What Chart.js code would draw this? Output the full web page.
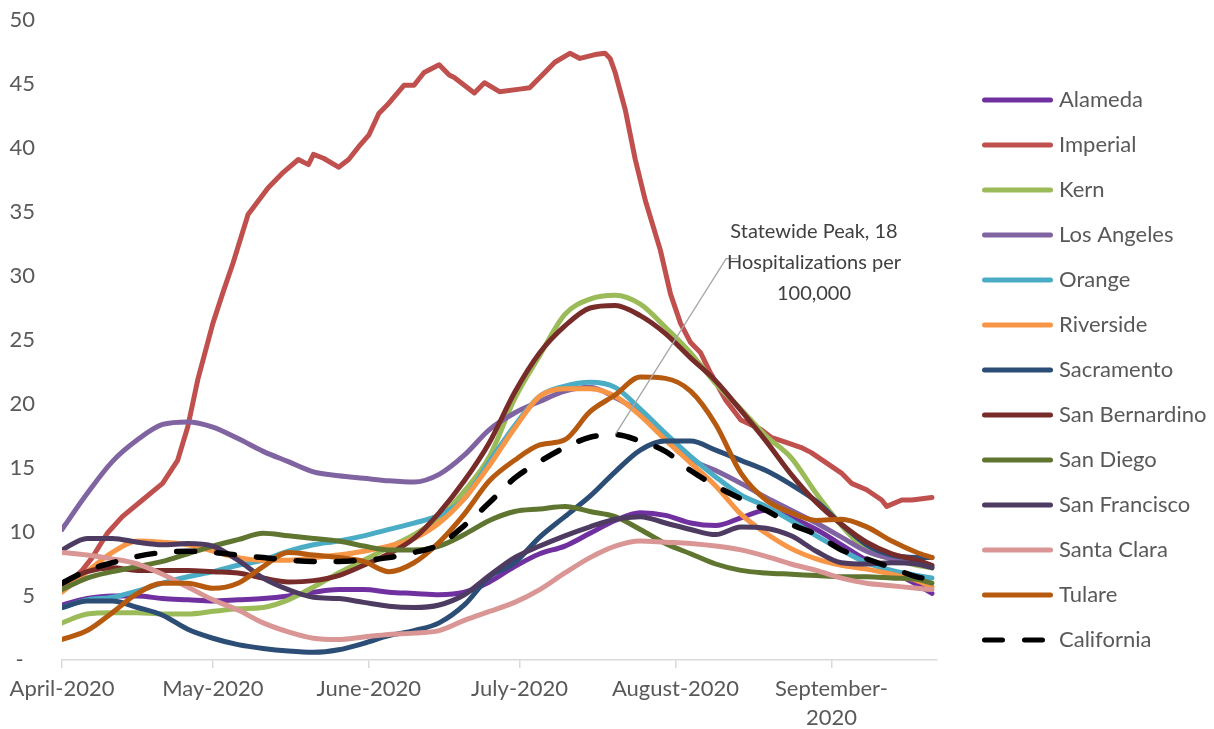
<!DOCTYPE html>
<html>
<head>
<meta charset="utf-8">
<script src="https://cdn.jsdelivr.net/npm/chart.js@4.4.1/dist/chart.umd.min.js"></script>
<style>
  html, body { margin: 0; padding: 0; background: #fff; }
  #wrap { width: 1214px; height: 729px; position: relative; }
</style>
</head>
<body>
<div id="wrap"><canvas id="hospChart"></canvas></div>
<script>
// ---------- Data (days since April 1, 2020) ----------
const days = [0, 5, 10, 15, 20, 25, 30, 35, 40, 45, 50, 55, 60, 65, 70, 75, 80, 85,
  90, 95, 100, 105, 110, 115, 120, 125, 130, 135, 140, 145, 150, 155, 160, 165, 170, 173];

const alameda = [4.3, 4.8, 5.0, 5.0, 4.8, 4.7, 4.6, 4.7, 4.8, 5.0, 5.3, 5.5, 5.5, 5.3, 5.2, 5.1, 5.3, 6.1,
  7.3, 8.3, 8.9, 9.9, 10.9, 11.5, 11.3, 10.7, 10.5, 11.1, 11.7, 11.1, 10.2, 9.0, 7.8, 6.9, 5.9, 5.2];
const kern = [2.9, 3.6, 3.7, 3.7, 3.6, 3.6, 3.8, 4.0, 4.1, 4.7, 5.7, 6.8, 7.8, 8.8, 9.8, 11.1, 13.2, 15.9,
  20.4, 23.8, 27.0, 28.2, 28.5, 27.8, 26.0, 24.0, 21.6, 19.6, 17.5, 15.8, 13.0, 10.5, 8.6, 7.9, 7.4, 7.2];
const losAngeles = [10.2, 13.0, 15.5, 17.2, 18.4, 18.6, 18.2, 17.3, 16.3, 15.5, 14.7, 14.4, 14.2, 14.0, 13.9, 14.5, 16.0, 18.0,
  19.3, 20.2, 21.0, 21.3, 20.5, 19.3, 17.5, 15.7, 14.8, 13.8, 12.7, 11.7, 10.7, 9.6, 8.5, 7.9, 7.5, 7.3];
const orange = [4.1, 4.7, 4.9, 5.4, 6.0, 6.5, 6.9, 7.4, 7.8, 8.5, 9.0, 9.3, 9.7, 10.2, 10.7, 11.3, 12.6, 15.5,
  18.3, 20.6, 21.4, 21.7, 21.3, 19.6, 17.7, 15.9, 14.3, 12.9, 12.0, 10.9, 9.7, 8.6, 7.6, 7.0, 6.6, 6.4];
const riverside = [5.3, 6.9, 8.4, 9.3, 9.2, 9.0, 8.5, 8.0, 7.8, 7.8, 8.0, 8.2, 8.5, 8.9, 9.5, 10.7, 12.6, 15.2,
  18.1, 20.6, 21.2, 21.2, 20.6, 19.1, 17.2, 15.4, 13.6, 11.4, 9.9, 8.7, 7.9, 7.4, 7.1, 6.7, 6.2, 5.7];
const sacramento = [4.1, 4.6, 4.6, 4.1, 3.5, 2.4, 1.7, 1.2, 0.9, 0.7, 0.6, 0.8, 1.3, 1.9, 2.3, 2.9, 4.3, 6.5,
  7.6, 9.6, 11.2, 12.8, 14.7, 16.4, 17.1, 17.1, 16.4, 15.6, 14.8, 13.7, 12.4, 10.6, 9.0, 8.2, 8.0, 8.0];
const sanBernardino = [6.0, 6.9, 7.2, 7.0, 7.0, 7.0, 6.9, 6.8, 6.4, 6.1, 6.2, 6.6, 7.4, 8.3, 9.5, 11.5, 14.0, 17.0,
  20.9, 24.0, 26.1, 27.5, 27.7, 26.9, 25.5, 23.6, 21.8, 19.5, 17.1, 14.5, 12.3, 10.6, 9.2, 8.3, 7.8, 7.4];
const sanDiego = [5.5, 6.4, 6.9, 7.3, 7.7, 8.3, 8.9, 9.4, 9.9, 9.7, 9.5, 9.3, 8.9, 8.6, 8.6, 8.9, 9.8, 10.9,
  11.6, 11.8, 12.0, 11.6, 11.2, 10.2, 9.1, 8.3, 7.5, 7.0, 6.8, 6.7, 6.6, 6.5, 6.5, 6.4, 6.3, 6.0];
const sanFrancisco = [8.6, 9.5, 9.5, 9.2, 9.0, 9.1, 8.9, 7.8, 6.4, 5.5, 4.9, 4.8, 4.5, 4.2, 4.1, 4.3, 5.1, 6.6,
  8.0, 8.9, 9.7, 10.4, 11.0, 11.2, 10.7, 10.2, 9.8, 10.4, 10.3, 9.7, 8.5, 7.6, 7.5, 7.6, 7.5, 7.2];
const santaClara = [8.4, 8.2, 7.9, 7.5, 6.7, 5.7, 4.7, 3.9, 2.9, 2.2, 1.7, 1.6, 1.8, 2.0, 2.1, 2.3, 3.1, 3.8,
  4.5, 5.5, 6.8, 8.0, 8.9, 9.3, 9.2, 9.1, 8.9, 8.6, 8.1, 7.5, 7.0, 6.4, 6.0, 5.8, 5.6, 5.5];
const tulare = [1.6, 2.3, 3.7, 5.2, 6.0, 6.0, 5.6, 6.0, 7.3, 8.4, 8.2, 8.0, 7.7, 6.9, 7.6, 9.2, 11.4, 14.0,
  15.6, 16.8, 17.2, 19.4, 20.7, 22.1, 22.0, 21.0, 18.4, 14.6, 12.5, 11.5, 10.9, 11.0, 10.4, 9.3, 8.4, 8.0];
const california = [6.0, 7.0, 7.6, 8.1, 8.4, 8.5, 8.4, 8.2, 8.0, 7.8, 7.7, 7.7, 7.8, 8.0, 8.4, 9.0, 10.5, 12.3,
  14.2, 15.5, 16.6, 17.4, 17.6, 17.1, 16.3, 14.8, 13.6, 12.6, 11.7, 10.6, 9.8, 8.6, 7.9, 7.2, 6.5, 6.3];

// Imperial is jagged, so it gets its own finer day list
const imperialDays = [0, 4, 6, 9, 12, 16, 20, 23, 25, 27, 30, 32, 34, 37, 41, 44, 47, 49, 50, 52,
  55, 57, 59, 61, 63, 65, 68, 70, 72, 75, 77, 78, 82, 84, 87, 91, 93, 96, 98, 101,
  103, 106, 108, 109, 110, 112, 114, 116, 119, 121, 123, 125, 127, 129, 132, 135, 139, 141, 144, 147,
  149, 152, 155, 157, 160, 163, 164, 167, 169, 173];
const imperial = [5.5, 7.0, 8.0, 9.9, 11.2, 12.5, 13.8, 15.6, 18.2, 21.9, 26.3, 28.7, 31.0, 34.8, 36.9, 38.1, 39.1, 38.7, 39.5, 39.2,
  38.5, 39.1, 40.1, 41.0, 42.7, 43.5, 44.9, 44.9, 45.9, 46.5, 45.7, 45.5, 44.3, 45.1, 44.4, 44.6, 44.7, 45.9, 46.7, 47.4,
  47.0, 47.3, 47.4, 47.0, 45.9, 43.0, 39.1, 35.9, 32.0, 28.6, 26.3, 24.8, 24.0, 22.4, 20.3, 18.75, 18.0, 17.4, 17.0, 16.6,
  16.2, 15.4, 14.6, 13.8, 13.3, 12.5, 12.0, 12.5, 12.5, 12.7];

// ---------- Axis labels ----------
const monthStarts = [0, 30, 61, 91, 122, 153];
const monthLabels = ["April-2020", "May-2020", "June-2020", "July-2020", "August-2020", ["September-", "2020"]];
const peakNote = ["Statewide Peak, 18", "Hospitalizations per", "100,000"];

const FONT = "Lato, 'DejaVu Sans', sans-serif";
const TEXT = "#595959";

function pts(xs, ys) {
  return xs.map((d, i) => ({ x: d, y: ys[i] }));
}

function line(label, xs, ys, color, extra) {
  return Object.assign({
    label: label,
    data: pts(xs, ys),
    borderColor: color,
    backgroundColor: color,
    borderWidth: 5,
    pointRadius: 0,
    borderCapStyle: "round",
    borderJoinStyle: "round",
    cubicInterpolationMode: "monotone",
    fill: false,
  }, extra || {});
}

const datasets = [
  line("Alameda", days, alameda, "#7030A0"),
  line("Imperial", imperialDays, imperial, "#C0504D", { cubicInterpolationMode: "default", tension: 0 }),
  line("Kern", days, kern, "#9BBB59"),
  line("Los Angeles", days, losAngeles, "#8064A2"),
  line("Orange", days, orange, "#4BACC6"),
  line("Riverside", days, riverside, "#F79646"),
  line("Sacramento", days, sacramento, "#2C4D75"),
  line("San Bernardino", days, sanBernardino, "#772C2A"),
  line("San Diego", days, sanDiego, "#5F7530"),
  line("San Francisco", days, sanFrancisco, "#4D3B62"),
  line("Santa Clara", days, santaClara, "#D99694"),
  line("Tulare", days, tulare, "#B65A10"),
  line("California", days, california, "#000000", { borderWidth: 5.5, borderDash: [18, 22] }),
];
// later series drawn on top, like the spreadsheet
datasets.forEach((ds, i) => { ds.order = datasets.length - i; });

// ---------- Legend drawn on the right ----------
const sideLegend = {
  id: "sideLegend",
  afterDraw(chart) {
    const ctx = chart.ctx;
    chart.data.datasets.forEach((ds, i) => {
      const y = 100 + i * 45;
      ctx.save();
      ctx.strokeStyle = ds.borderColor;
      ctx.lineWidth = 5;
      ctx.lineCap = "round";
      ctx.setLineDash(ds.borderDash || []);
      ctx.beginPath();
      ctx.moveTo(984.5, y);
      ctx.lineTo(ds.borderDash ? 1044 : 1050.5, y);
      ctx.stroke();
      ctx.setLineDash([]);
      ctx.fillStyle = TEXT;
      ctx.font = "22px " + FONT;
      ctx.textBaseline = "middle";
      ctx.fillText(ds.label, 1059, y);
      ctx.restore();
    });
  },
};

// ---------- Callout at the statewide peak ----------
const peakCallout = {
  id: "peakCallout",
  afterDatasetsDraw(chart) {
    const { ctx, scales } = chart;
    let k = 0;
    california.forEach((v, i) => { if (v > california[k]) k = i; });
    const px = scales.x.getPixelForValue(days[k]);
    const py = scales.y.getPixelForValue(california[k]);
    const ex = px + 111, ey = py - 176;
    ctx.save();
    ctx.strokeStyle = "#A6A6A6";
    ctx.lineWidth = 1.3;
    ctx.beginPath();
    ctx.moveTo(px, py);
    ctx.lineTo(ex, ey);
    ctx.lineTo(ex + 11, ey);
    ctx.stroke();
    ctx.fillStyle = "#404040";
    ctx.font = "20px " + FONT;
    ctx.textAlign = "center";
    ctx.textBaseline = "middle";
    peakNote.forEach((t, i) => ctx.fillText(t, 814, 232 + i * 31));
    ctx.restore();
  },
};

// ---------- Chart ----------
const ctx = document.getElementById("hospChart").getContext("2d");

const hospChart = new Chart(ctx, {
  type: "line",
  data: { datasets: datasets },
  options: {
    responsive: true,
    maintainAspectRatio: false,
    animation: false,
    layout: { padding: { top: 20, right: 277, left: 0, bottom: 0 } },
    plugins: {
      legend: { display: false },
      tooltip: { enabled: false },
    },
    scales: {
      x: {
        type: "linear",
        min: 0,
        max: 174,
        afterFit: (s) => { s.height = 69; s.paddingLeft = 0; s.paddingRight = 0; },
        afterBuildTicks: (s) => { s.ticks = monthStarts.map((v) => ({ value: v })); },
        grid: { display: true, drawOnChartArea: false, drawTicks: true, tickLength: 8, color: "#D9D9D9", lineWidth: 1.5 },
        border: { display: true, color: "#D9D9D9", width: 1.5 },
        ticks: {
          autoSkip: false,
          maxRotation: 0,
          padding: 7,
          color: TEXT,
          font: { family: FONT, size: 22, lineHeight: 1.3 },
          callback: (v, i) => monthLabels[i],
        },
      },
      y: {
        min: 0,
        max: 50,
        afterFit: (s) => { s.width = 62; s.paddingTop = 0; s.paddingBottom = 0; },
        grid: { display: false, drawTicks: false },
        border: { display: false },
        ticks: {
          stepSize: 5,
          padding: 27,
          color: TEXT,
          font: { family: FONT, size: 22 },
          callback: (v) => (v === 0 ? "-  " : v),
        },
      },
    },
  },
  plugins: [peakCallout, sideLegend],
});
</script>
</body>
</html>
